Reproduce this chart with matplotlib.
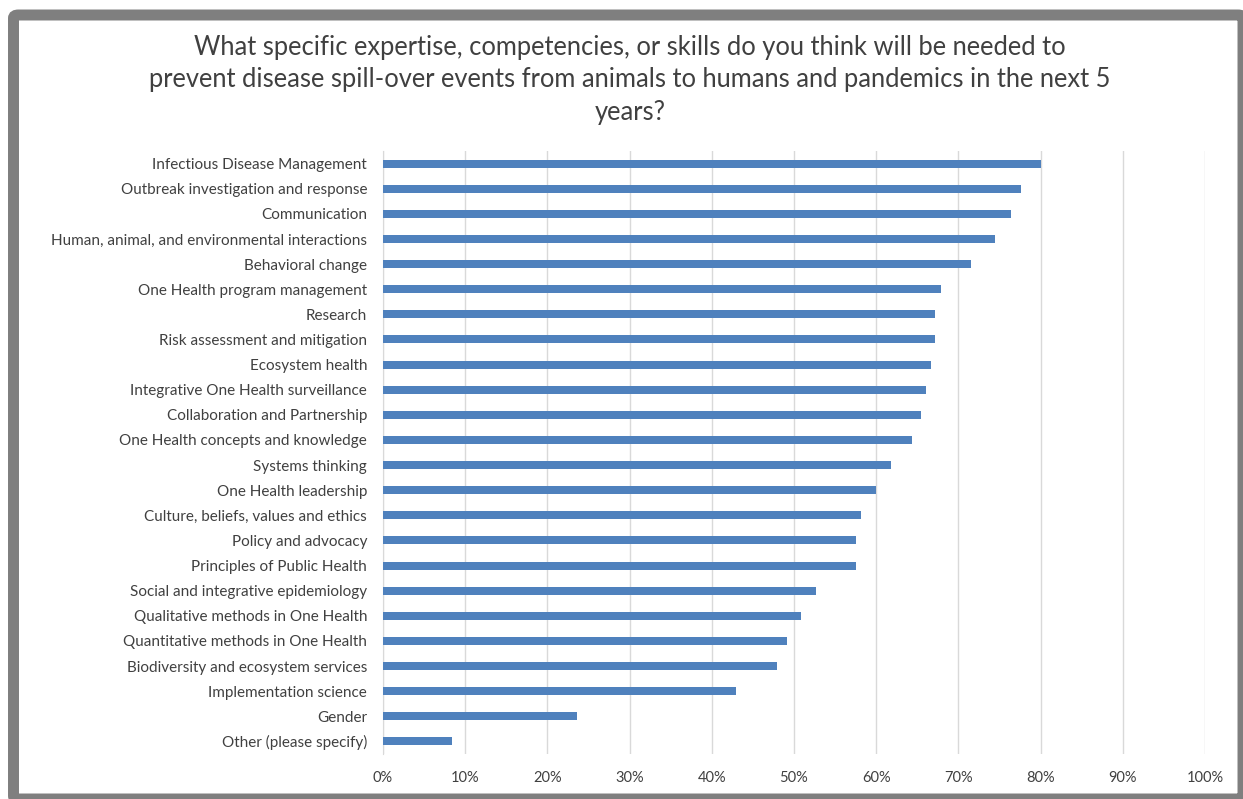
import matplotlib.pyplot as plt
from matplotlib.patches import FancyBboxPatch
from matplotlib.ticker import PercentFormatter

skills = [
    'Infectious Disease Management',
    'Outbreak investigation and response',
    'Communication',
    'Human, animal, and environmental interactions',
    'Behavioral change',
    'One Health program management',
    'Research',
    'Risk assessment and mitigation',
    'Ecosystem health',
    'Integrative One Health surveillance',
    'Collaboration and Partnership',
    'One Health concepts and knowledge',
    'Systems thinking',
    'One Health leadership',
    'Culture, beliefs, values and ethics',
    'Policy and advocacy',
    'Principles of Public Health',
    'Social and integrative epidemiology',
    'Qualitative methods in One Health',
    'Quantitative methods in One Health',
    'Biodiversity and ecosystem services',
    'Implementation science',
    'Gender',
    'Other (please specify)',
]
share = [80.0, 77.6, 76.4, 74.5, 71.5, 67.9, 67.2, 67.2, 66.7, 66.1, 65.5, 64.3,
         61.8, 60.0, 58.2, 57.5, 57.5, 52.7, 50.9, 49.1, 47.9, 43.0, 23.6, 8.4]

title = ('What specific expertise, competencies, or skills do you think will be needed to\n'
         'prevent disease spill-over events from animals to humans and pandemics in the next 5\n'
         'years?')

plt.rcParams['font.family'] = ['Lato', 'DejaVu Sans']

W, H = 1243, 799
fig = plt.figure(figsize=(W / 100, H / 100), dpi=100)

# gray frame round the chart, kept behind the axes (bottom/right run off the image)
frame = FancyBboxPatch((13.5 / W, 0), (1243 - 13.5) / W, 784 / H,
                       boxstyle='round,pad=0,rounding_size=0.004',
                       transform=fig.transFigure, facecolor='white',
                       edgecolor='#7f7f7f', linewidth=7.9, zorder=-1)
fig.patches.append(frame)

ax = fig.add_axes([383 / W, 1 - 754 / H, (1205 - 383) / W, (754 - 151) / H])
ax.set_facecolor('none')

y = list(range(len(skills)))
ax.barh(y, share, height=0.32, color='#4f81bd', zorder=3)
ax.set_ylim(len(skills) - 0.5, -0.5)
ax.set_xlim(0, 100)
ax.set_yticks(y)
ax.set_yticklabels(skills)
ax.set_xticks(range(0, 101, 10))
ax.xaxis.set_major_formatter(PercentFormatter(decimals=0))
ax.tick_params(axis='y', length=0, pad=11.5, labelsize=11, labelcolor='#404040')
ax.tick_params(axis='x', length=0, pad=12, labelsize=10.5, labelcolor='#404040')
ax.grid(axis='x', color='#d9d9d9', linewidth=1, zorder=0)
for s in ['top', 'right', 'bottom']:
    ax.spines[s].set_visible(False)
ax.spines['left'].set_color('#d9d9d9')

fig.text(630 / W, 1 - 80 / H, title, ha='center', va='center', fontsize=18.4,
         color='#404040', linespacing=1.38)

fig.savefig('out.png', dpi=100)
